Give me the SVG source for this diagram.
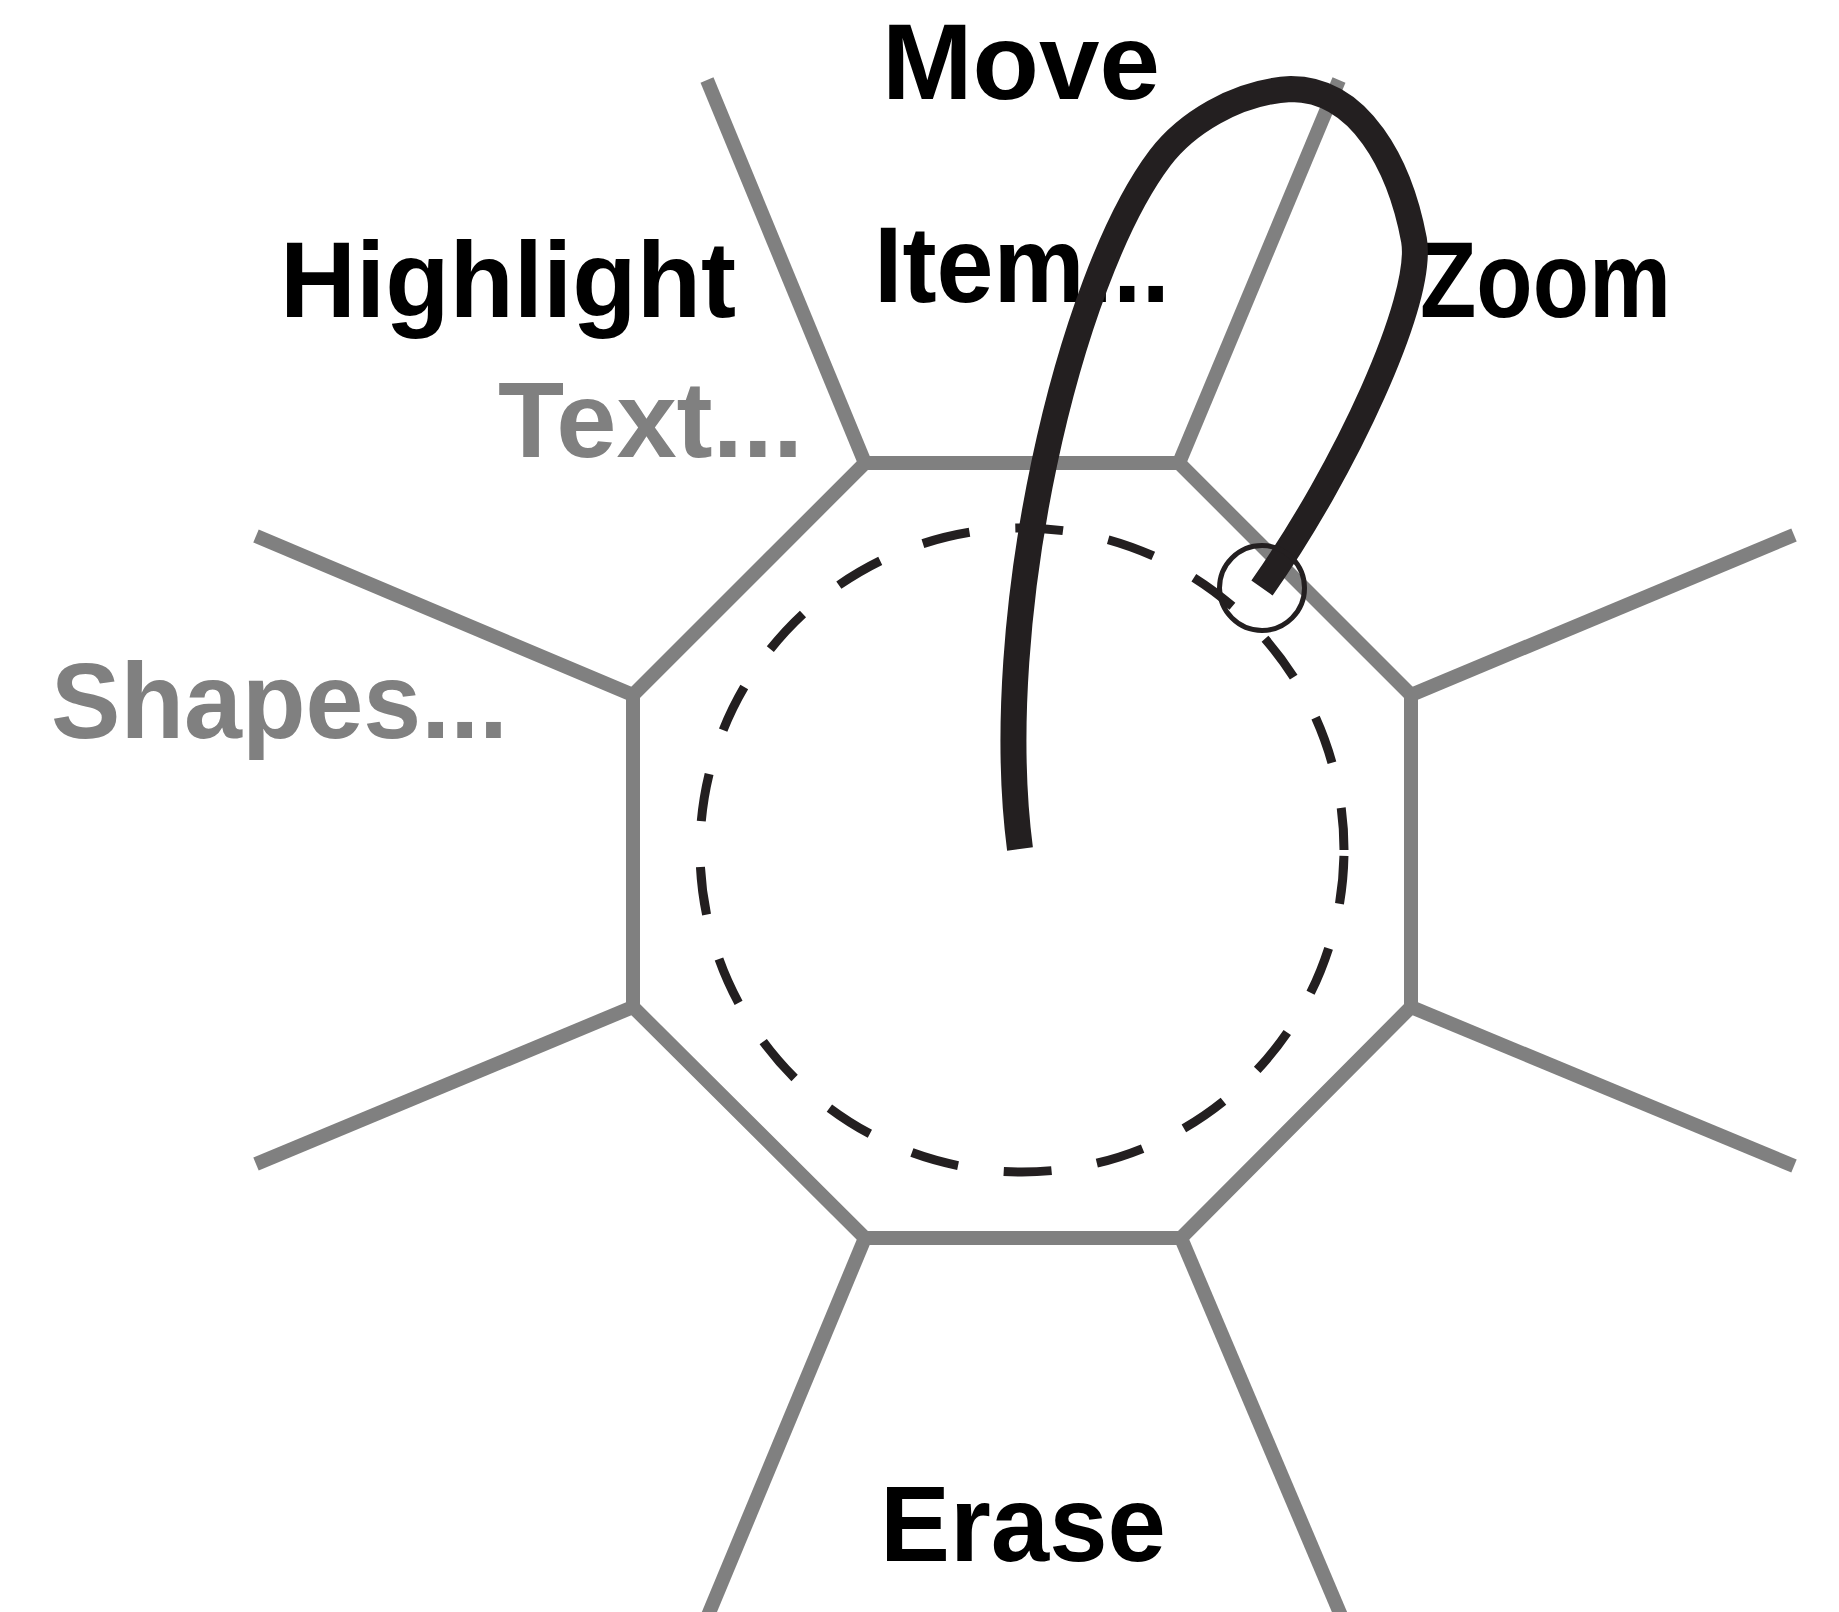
<svg xmlns="http://www.w3.org/2000/svg" width="1839" height="1612" viewBox="0 0 1839 1612">
<style>
.grid{fill:none;stroke:#808080;stroke-width:14;stroke-linecap:butt;stroke-linejoin:miter}
.lbl{font-family:"Liberation Sans",Arial,sans-serif;font-weight:bold;font-size:108px}
.blk{fill:#000}
.gry{fill:#808080}
.ink{fill:none;stroke:#231f20}
</style>
<rect width="1839" height="1612" fill="#fff"/>
<g id="menu-frame">
<polygon class="grid" points="865,463 1179,463 1411,695 1411,1007 1181,1238 865,1238 633,1007 633,695"/>
<g id="spokes">
<line class="grid" x1="865" y1="463" x2="707" y2="80"/>
<line class="grid" x1="1179" y1="463" x2="1339" y2="80"/>
<line class="grid" x1="1411" y1="695" x2="1794" y2="535"/>
<line class="grid" x1="1411" y1="1007" x2="1794" y2="1166"/>
<line class="grid" x1="1181" y1="1238" x2="1345" y2="1625"/>
<line class="grid" x1="865" y1="1238" x2="704" y2="1625"/>
<line class="grid" x1="633" y1="1007" x2="256" y2="1164"/>
<line class="grid" x1="633" y1="695" x2="256" y2="536"/>
</g>
</g>
<g id="label-move"><text class="lbl blk" x="882" y="99" textLength="278" lengthAdjust="spacingAndGlyphs">Move</text></g>
<g id="label-item"><text class="lbl blk" x="874" y="302" textLength="296" lengthAdjust="spacingAndGlyphs">Item...</text></g>
<g id="label-highlight"><text class="lbl blk" x="280" y="317" textLength="456" lengthAdjust="spacingAndGlyphs">Highlight</text></g>
<g id="label-zoom"><text class="lbl blk" x="1420" y="317" textLength="251" lengthAdjust="spacingAndGlyphs">Zoom</text></g>
<g id="label-text"><text class="lbl gry" x="498" y="457" textLength="305" lengthAdjust="spacingAndGlyphs">Text...</text></g>
<g id="label-shapes"><text class="lbl gry" x="51" y="738" textLength="457" lengthAdjust="spacingAndGlyphs">Shapes...</text></g>
<g id="label-erase"><text class="lbl blk" x="880" y="1561" textLength="286" lengthAdjust="spacingAndGlyphs">Erase</text></g>
<g id="dead-zone">
<path class="ink" stroke-width="9" stroke-dasharray="48 46" stroke-dashoffset="88" d="M1344 850 A322 322 0 0 1 700 850 A322 322 0 0 1 1344 850"/>
</g>
<g id="connectors">
<path id="gesture" class="ink" stroke-width="26" stroke-linecap="butt" stroke-linejoin="round" d="M1020 849 C990 620 1068 280 1160 158 C1185 125 1235 92 1291 89 C1360 89 1400 165 1414 240 C1424 300 1345 470 1262 588"/>
</g>
<g id="cursor"><circle class="ink" cx="1262" cy="588" r="42.5" stroke-width="5"/></g>
</svg>
